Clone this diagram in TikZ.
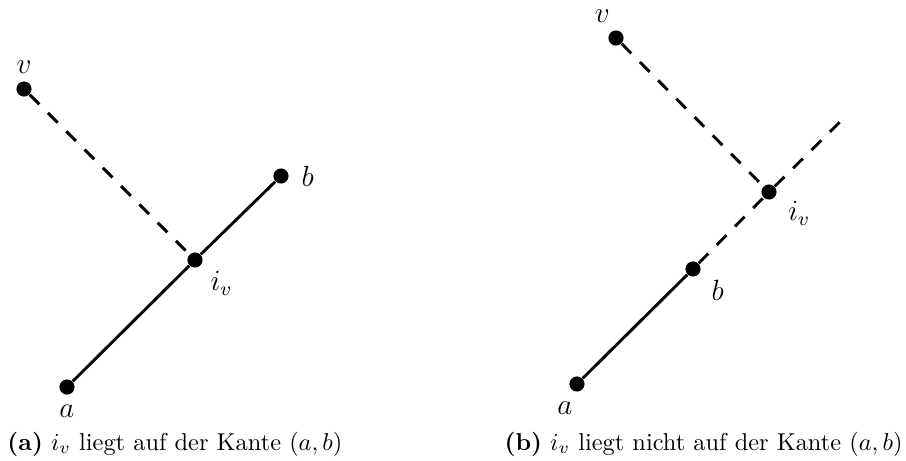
\documentclass[tikz,border=0pt]{standalone}
\usepackage{amsmath, amssymb}
\usepackage{tikz}
\usetikzlibrary{positioning, calc}

\tikzset{
  punkt/.style={circle, fill=black, inner sep=0pt, minimum size=6.2pt},
  kante/.style={line width=1.2pt},
  hilfslinie/.style={line width=1.2pt, dash pattern=on 5.6pt off 5pt},
  beschr/.style={font=\large, inner sep=1pt},
  unterschrift/.style={font=\normalsize, inner sep=0pt}
}

\begin{document}
\begin{tikzpicture}[x=0.41pt, y=-0.41pt]
  \useasboundingbox (0,0) rectangle (906,460);

  % (a) Schnittpunkt liegt auf der Kante
  \node[punkt, label={[beschr, label distance=2pt]90:$v$}] (va) at (24,89) {};
  \node[punkt, label={[beschr, label distance=4pt]right:$b$}] (ba) at (281,176) {};
  \node[punkt, label={[beschr, label distance=3pt]-35:$i_v$}] (iva) at (195,260) {};
  \node[punkt, label={[beschr, label distance=3pt]-90:$a$}] (aa) at (67,387) {};

  \draw[kante] (aa) -- (iva) -- (ba);
  \draw[hilfslinie] (va) -- (iva);

  % (b) Schnittpunkt liegt nicht auf der Kante
  \node[punkt, label={[beschr, label distance=2pt]105:$v$}] (vb) at (616,38) {};
  \node[punkt, label={[beschr, label distance=4pt]-22:$i_v$}] (ivb) at (769,192) {};
  \node[punkt, label={[beschr, label distance=4pt]-28:$b$}] (bb) at (693,269) {};
  \node[punkt, label={[beschr, label distance=3pt]-96:$a$}] (ab) at (577,384) {};
  \coordinate (endb) at (846,116);

  \draw[kante] (ab) -- (bb);
  \draw[hilfslinie] (bb) -- (ivb) -- (endb);
  \draw[hilfslinie] (vb) -- (ivb);

  % Unterschriften
  \node[unterschrift, anchor=base west] (capa) at (7,450)
    {\textbf{(a)} $i_v$ liegt auf der Kante $(a,b)$};
  \node[unterschrift, anchor=base east] (capb) at (903,450)
    {\textbf{(b)} $i_v$ liegt nicht auf der Kante $(a,b)$};
\end{tikzpicture}
\end{document}
